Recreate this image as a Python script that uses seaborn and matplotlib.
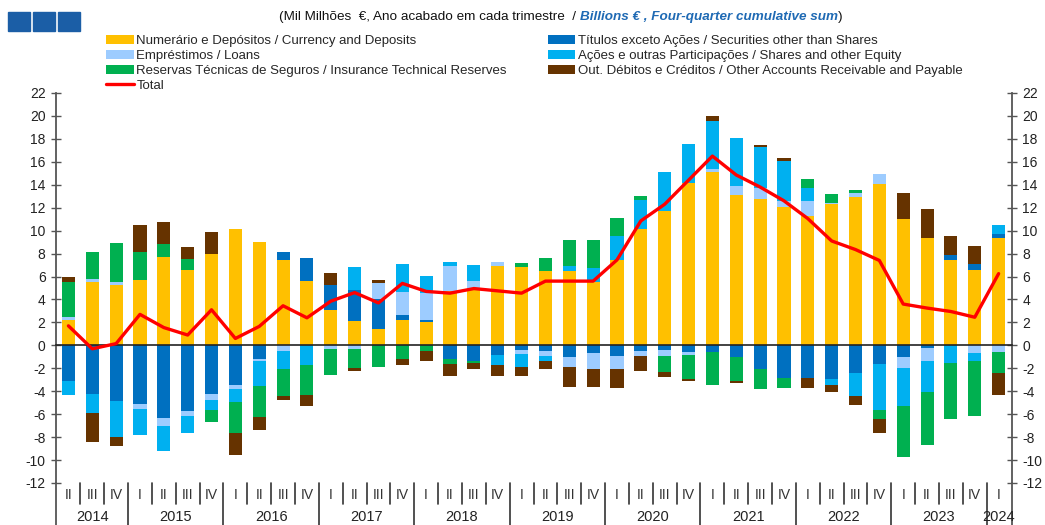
import numpy as np
import matplotlib.pyplot as plt
import seaborn as sns
from matplotlib.patches import Rectangle, Patch
from matplotlib.lines import Line2D

# ==============================================================================
# DATA (billions EUR, four-quarter cumulative sum)
# ==============================================================================
quarters = ["II", "III", "IV"] + ["I", "II", "III", "IV"] * 9 + ["I"]
years = ["2014"] * 3 + [str(y) for y in range(2015, 2024) for _ in range(4)] + ["2024"]

currency = [2.25, 5.5, 5.25, 5.7, 7.7, 6.55, 8.0, 10.1, 9.0, 7.45,
            5.65, 3.05, 2.15, 1.4, 2.25, 2.05, 4.75, 4.95, 6.9, 6.8,
            6.45, 6.45, 5.5, 7.45, 10.1, 11.75, 14.15, 15.1, 13.1, 12.75,
            12.05, 11.3, 12.3, 12.95, 14.05, 11.05, 9.35, 7.45, 6.55, 9.35]
securities = [-3.15, -4.2, -4.85, -5.1, -6.35, -5.75, -4.2, -3.45, -1.2, 0.7,
              1.95, 2.25, 2.7, 2.65, 0.4, 0.2, -1.15, -1.4, -0.8, -0.4,
              -0.45, -1.05, -0.65, -0.95, -0.5, -0.4, -0.6, -0.55, -1.0, -2.05,
              -2.85, -2.85, -2.9, -2.45, -1.6, -1.05, -0.2, 0.45, 0.5, 0.35]
loans = [0.25, 0.25, 0.3, -0.45, -0.65, -0.45, -0.55, -0.35, -0.2, -0.5,
         0.0, -0.3, -0.3, 1.35, 2.0, 2.3, 2.2, 0.65, 0.35, -0.35,
         -0.5, -0.8, -1.4, -1.1, -0.45, -0.55, -0.25, 0.3, 0.75, 0.95,
         0.5, 1.25, 0.15, 0.35, 0.9, -0.95, -1.15, 0.0, -0.65, -0.55]
shares = [-1.2, -1.7, -3.15, -2.25, -2.2, -1.45, -0.9, -1.1, -2.15, -1.55,
          -1.75, 0.0, 1.95, 0.0, 2.4, 1.5, 0.35, 1.4, -0.9, -1.15,
          -0.4, 0.5, 1.2, 2.05, 2.55, 3.35, 3.4, 4.2, 4.2, 3.55,
          3.5, 1.2, -0.6, -2.0, -4.05, -3.25, -2.75, -1.55, -0.7, 0.8]
insurance = [3.0, 2.4, 3.35, 2.45, 1.15, 1.0, -1.05, -2.75, -2.7, -2.4,
             -2.55, -2.3, -1.7, -1.9, -1.2, -0.45, -0.5, -0.15, -0.05, 0.4,
             1.2, 2.2, 2.5, 1.6, 0.4, -1.35, -2.1, -2.95, -2.1, -1.75,
             -0.85, 0.75, 0.75, 0.25, -0.75, -4.45, -4.55, -4.9, -4.85, -1.85]
other = [0.5, -2.55, -0.8, 2.35, 1.9, 1.0, 1.85, -1.9, -1.15, -0.3,
         -0.95, 1.0, -0.25, 0.3, -0.5, -0.9, -1.05, -0.55, -0.9, -0.8,
         -0.75, -1.75, -1.6, -1.7, -1.3, -0.5, -0.2, 0.4, -0.2, 0.25,
         0.25, -0.85, -0.6, -0.75, -1.25, 2.25, 2.5, 1.6, 1.65, -1.9]
total = [1.7, -0.3, 0.15, 2.7, 1.55, 0.9, 3.1, 0.6, 1.65, 3.45,
         2.4, 3.85, 4.6, 3.7, 5.4, 4.7, 4.55, 4.95, 4.75, 4.55,
         5.6, 5.6, 5.6, 7.45, 10.85, 12.3, 14.4, 16.5, 14.85, 13.8,
         12.6, 11.05, 9.1, 8.35, 7.4, 3.6, 3.25, 2.95, 2.45, 6.25]

series = [
    ("Numerário e Depósitos / Currency and Deposits", currency, "#FFC000"),
    ("Títulos exceto Ações / Securities other than Shares", securities, "#0070C0"),
    ("Empréstimos / Loans", loans, "#9DCCFF"),
    ("Ações e outras Participações / Shares and other Equity", shares, "#00B0F0"),
    ("Reservas Técnicas de Seguros / Insurance Technical Reserves", insurance, "#00B050"),
    ("Out. Débitos e Créditos / Other Accounts Receivable and Payable", other, "#663300"),
]

# ==============================================================================
# PLOT
# ==============================================================================
sns.set_style("white")
plt.rcParams['font.family'] = ['Liberation Sans', 'DejaVu Sans']
plt.rcParams['axes.unicode_minus'] = False

n = len(total)
idx = np.arange(n)

fig = plt.figure(figsize=(10.45, 5.25), dpi=100)
ax = fig.add_axes([0.0536, 0.08, 0.9148, 0.7429])

# stacked bars: positives stack upwards, negatives downwards
pos = np.zeros(n)
neg = np.zeros(n)
for name, vals, color in series:
    vals = np.array(vals)
    bottom = np.where(vals >= 0, pos, neg)
    sns.barplot(x=idx, y=vals, bottom=bottom, color=color, saturation=1,
                width=0.55, errorbar=None, linewidth=0, ax=ax)
    pos += np.clip(vals, 0, None)
    neg += np.clip(vals, None, 0)

sns.lineplot(x=idx, y=total, color="#FF0000", linewidth=2.4, ax=ax, zorder=4)

# axes cosmetics
ax.set_xlim(-0.52, n - 0.44)
ax.set_ylim(-12, 22)
ax.set_yticks(range(-12, 23, 2))
ax.tick_params(axis='y', direction='inout', length=7, width=1, color='#555555',
               left=True, right=True, labelleft=True, labelright=True,
               labelsize=10, pad=4, labelcolor='#222222')
ax.set_xticks(np.arange(n + 1) - 0.5)
ax.set_xticklabels([])
ax.tick_params(axis='x', direction='out', length=3, width=1, color='#333333')
ax.set_xlabel("")
ax.set_ylabel("")
for s in ['left', 'right']:
    ax.spines[s].set_color('#555555')
    ax.spines[s].set_linewidth(1.3)
ax.spines['top'].set_visible(False)
ax.spines['bottom'].set_position(('data', 0))
ax.spines['bottom'].set_color('#222222')
ax.spines['bottom'].set_linewidth(1.2)

# category labels below the plot
trans = ax.get_xaxis_transform()
for i, q in enumerate(quarters):
    ax.text(i, -0.031, q, transform=trans, ha='center', va='center',
            fontsize=10, color='#333333')
    if i > 0:
        depth = -0.108 if years[i] != years[i - 1] else -0.053
        ax.plot([i - 0.5, i - 0.5], [0, depth], transform=trans,
                color='#333333', lw=1.2, clip_on=False)
for xe in ax.get_xlim():
    ax.plot([xe, xe], [0, -0.108], transform=trans, color='#555555',
            lw=1.3, clip_on=False)
for y in dict.fromkeys(years):
    pos_y = [i for i, yy in enumerate(years) if yy == y]
    ax.text(np.mean(pos_y), -0.087, y, transform=trans, ha='center',
            va='center', fontsize=10.5, color='#222222')

# title in two styles
t1 = fig.text(279 / 1045, 1 - 17 / 525,
              "(Mil Milhões  €, Ano acabado em cada trimestre  / ",
              ha='left', va='center', fontsize=9.7, color='#111111')
t2 = ax.annotate("Billions € , Four-quarter cumulative sum", xy=(1, 0),
                 xycoords=t1, ha='left', va='bottom', fontsize=9.7,
                 style='italic', fontweight='bold', color='#1F6AB4',
                 annotation_clip=False)
ax.annotate(")", xy=(1, 0), xycoords=t2, ha='left', va='bottom',
            fontsize=9.7, color='#111111', annotation_clip=False)

# logo squares
for x0 in [8, 33, 58]:
    fig.add_artist(Rectangle((x0 / 1045, 1 - 31 / 525), 22 / 1045, 19 / 525,
                             transform=fig.transFigure, color='#1B5EA6'))

# legend (two columns, filled column-wise)
handles = [Patch(facecolor=c, edgecolor='none') for _, _, c in series]
labels = [name for name, _, _ in series]
h = [handles[i] for i in [0, 2, 4]] + [Line2D([], [], color="#FF0000", lw=2.4)] + \
    [handles[i] for i in [1, 3, 5]]
l = [labels[i] for i in [0, 2, 4]] + ["Total"] + [labels[i] for i in [1, 3, 5]]
fig.legend(h, l, loc='upper left', bbox_to_anchor=(106 / 1045, 1 - 35 / 525),
           ncol=2, frameon=False, fontsize=9.5, handlelength=2.1,
           handleheight=0.7, handletextpad=0.2, labelspacing=0.2,
           columnspacing=3.1, borderaxespad=0, borderpad=0)

fig.savefig("out.png", dpi=100)
